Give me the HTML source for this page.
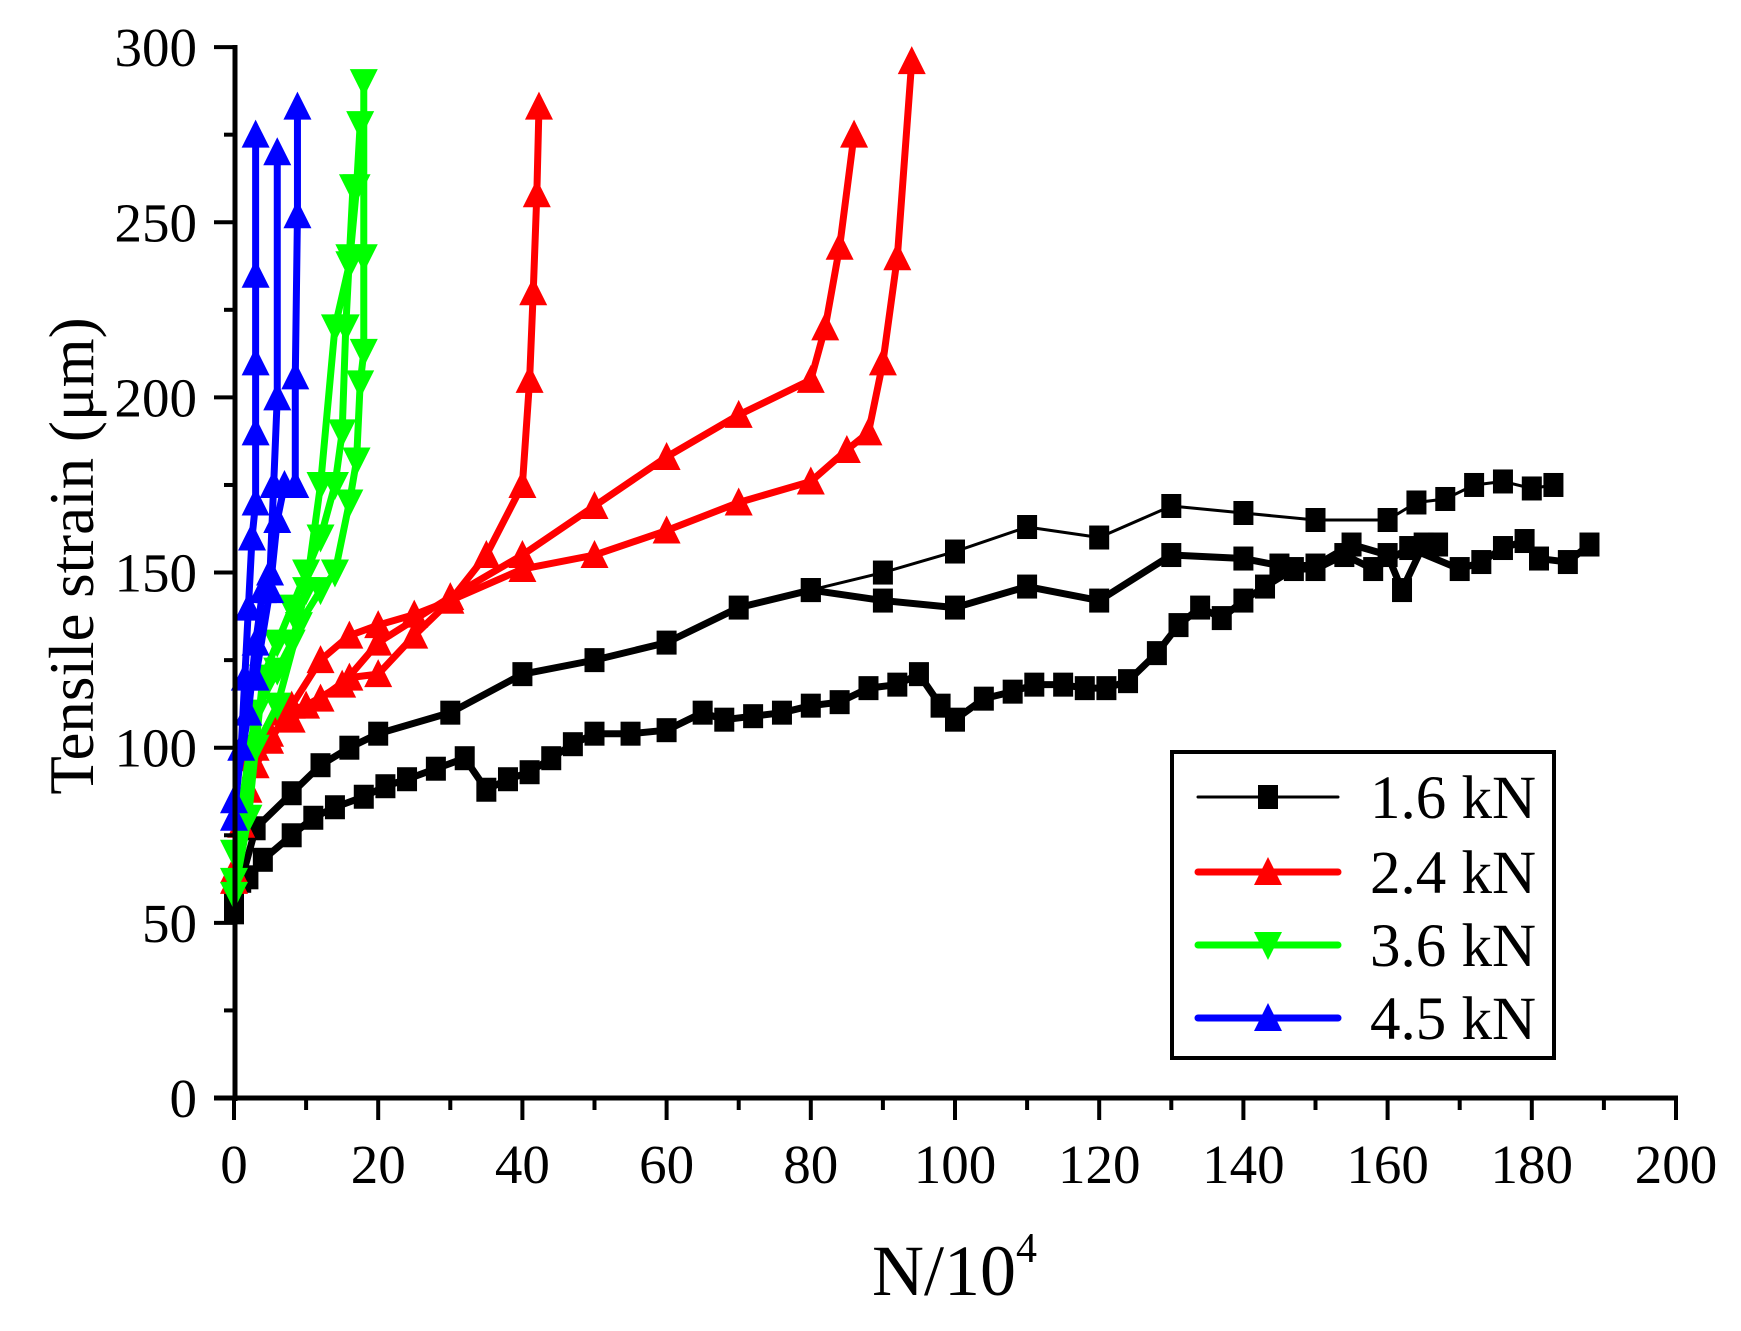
<!DOCTYPE html>
<html><head><meta charset="utf-8"><style>
html,body{margin:0;padding:0;background:#fff;}
svg{display:block;}
text{font-family:"Liberation Serif","DejaVu Serif",serif;fill:#000;}
</style></head><body>
<svg id="s" width="1741" height="1331" viewBox="0 0 1741 1331" xmlns="http://www.w3.org/2000/svg">
<g id="plot"></g>
<!-- axes -->
<line x1="235" y1="45" x2="235" y2="1101" stroke="#000" stroke-width="5"/>
<line x1="214" y1="1098" x2="1678" y2="1098" stroke="#000" stroke-width="5"/>
<g id="ticks" stroke="#000" stroke-width="4"></g>
<g font-size="55" text-anchor="end" id="yl"></g>
<g font-size="55" text-anchor="middle" id="xl"></g>
<text x="0" y="0" font-size="63" text-anchor="middle" transform="translate(93,556) rotate(-90)">Tensile strain (μm)</text>
<text x="872" y="1295" font-size="72">N/10<tspan font-size="42" dy="-33">4</tspan></text>
<!-- legend -->
<rect x="1172" y="752" width="382" height="306" fill="#fff" stroke="#000" stroke-width="4"/>
<g id="leg"></g>
<g font-size="61">
<text x="1370" y="818">1.6 kN</text>
<text x="1370" y="893">2.4 kN</text>
<text x="1370" y="966">3.6 kN</text>
<text x="1370" y="1039">4.5 kN</text>
</g>
</svg>
<script>
var NS="http://www.w3.org/2000/svg";
function X(v){return 234+v*7.21;}
function Y(v){return 1098-v*3.503;}
function el(p,t,a){var e=document.createElementNS(NS,t);for(var k in a)e.setAttribute(k,a[k]);p.appendChild(e);return e;}
var tk=document.getElementById("ticks"),yl=document.getElementById("yl"),xl=document.getElementById("xl");
for(var v=0;v<=300;v+=25){var y=Y(v);el(tk,"line",{x1:v%50==0?214:224,y1:y,x2:235,y2:y});
 if(v%50==0){var t=el(yl,"text",{x:197,y:y+19});t.textContent=v;}}
for(var v=0;v<=200;v+=10){var x=X(v);el(tk,"line",{x1:x,y1:1098,x2:x,y2:v%20==0?1120:1110});
 if(v%20==0){var t=el(xl,"text",{x:x,y:1183});t.textContent=v;}}
var P=document.getElementById("plot");
function series(d,color,w,mk){
 var pts=[];for(var i=0;i<d.length;i+=2)pts.push(X(d[i])+","+Y(d[i+1]));
 el(P,"polyline",{points:pts.join(" "),fill:"none",stroke:color,"stroke-width":w,"stroke-linejoin":"round","stroke-linecap":"round"});
 for(var i=0;i<d.length;i+=2)marker(P,X(d[i]),Y(d[i+1]),color,mk);
}
function marker(p,x,y,c,mk){
 if(mk=="s")el(p,"rect",{x:x-10,y:y-12,width:20,height:24,fill:c});
 else if(mk=="u")el(p,"polygon",{points:(x-14)+","+(y+13)+" "+(x+14)+","+(y+13)+" "+x+","+(y-15),fill:c});
 else el(p,"polygon",{points:(x-14)+","+(y-13)+" "+(x+14)+","+(y-13)+" "+x+","+(y+15),fill:c});
}
// black
series([0,53,1,62,3,77,8,87,12,95,16,100,20,104,30,110,40,121,50,125,60,130,70,140,80,145,90,142,100,140,110,146,120,142,130,155,140,154,145,152,150,152,155,158,160,155,162,145,165,158,167,158],"#000",7,"s");
series([80,145,90,150,100,156,110,163,120,160,130,169,140,167,150,165,160,165,164,170,168,171,172,175,176,176,180,174,183,175],"#000",3,"s");
series([0,55,2,63,4,68,8,75,11,80,14,83,18,86,21,89,24,91,28,94,32,97,35,88,38,91,41,93,44,97,47,101,50,104,55,104,60,105,65,110,68,108,72,109,76,110,80,112,84,113,88,117,92,118,95,121,98,112,100,108,104,114,108,116,111,118,115,118,118,117,121,117,124,119,128,127,131,135,134,140,137,137,140,142,143,146,147,151,150,151,154,155,158,151,163,157,170,151,173,153,176,157,179,159,181,154,185,153,188,158],"#000",7,"s");
// red
var R="#ff0000";
series([0,62,1,78,2,88,3,95,5,102,8,112,12,125,16,132,20,135,25,138,30,142,35,155,40,175,41,205,41.5,230,42,258,42.3,283],R,7,"u");
series([0,65,2,97,5,104,8,108,12,114,16,120,20,121,25,132,30,142,40,151,50,155,60,162,70,170,80,176,85,185,88,190,90,210,92,240,94,296],R,7,"u");
series([3,100,6,110,10,112,15,118,20,130,30,143,40,155,50,169,60,183,70,195,80,205,82,220,84,243,86,275],R,7,"u");
// green
var G="#00ff00";
series([0,58,2,80,4,120,6,130,8,140,10,150,12,160,14,175,15,190,15.5,220,16,240,16.5,260],G,7,"d");
series([0,62,3,100,6,112,9,135,12,145,14,150,16,170,17,182,17.5,204,18,213,18,240,18,290],G,7,"d");
series([0,70,3,110,6,122,8,130,10,145,12,175,14,220,16,238,17,260,17.5,278],G,7,"d");
// blue
var B="#0000ff";
series([0,80,1,100,1.5,120,2,140,2.5,160,3,170,3,190,3,210,3,235,3,275],B,7,"u");
series([0,85,2,110,3,130,4,145,5,150,5.5,175,6,200,6,270],B,7,"u");
series([3,120,5,145,6,165,7,175,8.5,175,8.5,206,8.8,252,8.8,283],B,7,"u");
// legend samples
var L=document.getElementById("leg");
var rows=[[797,"#000",3,"s"],[872,R,7,"u"],[945,G,7,"d"],[1018,B,7,"u"]];
rows.forEach(function(r){el(L,"line",{x1:1198,y1:r[0],x2:1338,y2:r[0],stroke:r[1],"stroke-width":r[2],"stroke-linecap":"round"});marker(L,1268,r[0],r[1],r[3]);});
</script>
</body></html>
